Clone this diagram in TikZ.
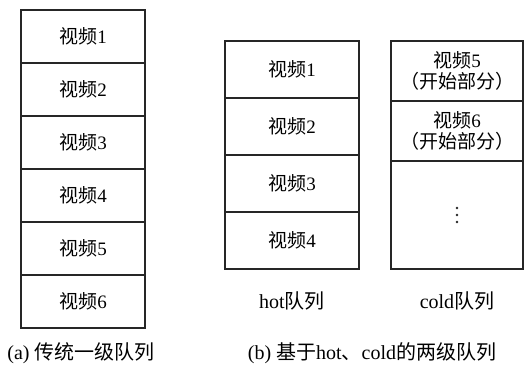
\documentclass[tikz,border=0pt]{standalone}
\usepackage{fontspec}
\setmainfont{Liberation Serif}
\newfontfamily\zhfont{Noto Sans CJK SC}
\newcommand{\zh}[1]{{\zhfont #1}}
\begin{document}
\begin{tikzpicture}[x=1pt,y=-1pt,
  cell/.style={draw=black!85, line width=1.3pt, inner sep=0pt, align=center, font=\fontsize{19}{21}\selectfont},
  lab/.style={inner sep=0pt, font=\fontsize{20}{22}\selectfont}]
\useasboundingbox (0,0) rectangle (524,371);
% (a) single queue
\foreach \i in {1,...,6}{
  \node[cell, minimum width=124pt, minimum height=53pt] (a\i) at (83,{10+53*(\i-1)+26.5}) {\zh{视频}\i};
}
% hot queue
\foreach \i in {1,...,4}{
  \node[cell, minimum width=134pt, minimum height=57pt] (h\i) at (292,{41+57*(\i-1)+28.5}) {\zh{视频}\i};
}
% cold queue
\node[cell, minimum width=132pt, minimum height=60pt] (c1) at (457,71) {\zh{视频}5\\\zh{（开始部分）}};
\node[cell, minimum width=132pt, minimum height=60pt] (c2) at (457,131) {\zh{视频}6\\\zh{（开始部分）}};
\node[cell, minimum width=132pt, minimum height=108pt] (c3) at (457,215) {};
\foreach \dy in {-7,0,7}{
  \fill[black!85] ([yshift=-\dy pt]c3.center) circle (1.3pt);
}
% labels
\node[lab] (hl) at (292,301) {hot\zh{队列}};
\node[lab] (cl) at (457,301) {cold\zh{队列}};
\node[lab] (la) at (81,353) {(a) \zh{传统一级队列}};
\node[lab] (lb) at (372,353) {(b) \zh{基于}hot\zh{、}cold\zh{的两级队列}};
\end{tikzpicture}
\end{document}
